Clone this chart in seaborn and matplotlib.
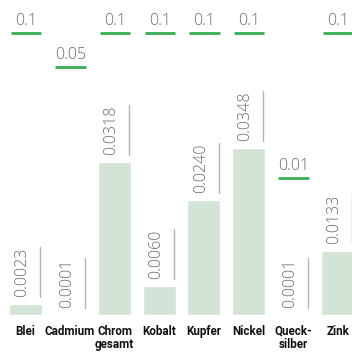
import matplotlib
matplotlib.use('Agg')
import matplotlib.pyplot as plt
import seaborn as sns
import pandas as pd

# measured values (mg/l) and limit values per metal
metals = ['Blei', 'Cadmium', 'Chrom\ngesamt', 'Kobalt', 'Kupfer', 'Nickel', 'Queck-\nsilber', 'Zink']
values = [0.0023, 0.0001, 0.0318, 0.0060, 0.0240, 0.0348, 0.0001, 0.0133]
value_labels = ['0.0023', '0.0001', '0.0318', '0.0060', '0.0240', '0.0348', '0.0001', '0.0133']
limits = [0.1, 0.05, 0.1, 0.1, 0.1, 0.1, 0.01, 0.1]
limit_labels = ['0.1', '0.05', '0.1', '0.1', '0.1', '0.1', '0.01', '0.1']

# limit markers are not drawn to scale: vertical slot (axes fraction) per limit value
limit_slot = {0.1: 0.895, 0.05: 0.787, 0.01: 0.435}

BAR = '#d3e3d5'
GREEN = '#3aae55'
TEXT = '#6b6b6b'
RULE = '#b5b5b5'

sns.set_style('white')
df = pd.DataFrame({'metal': metals, 'value': values})

W, H = 352, 354
fig = plt.figure(figsize=(W / 100, H / 100), dpi=100)
step = 44.6
left = 25.5 - 0.5 * step
ax = fig.add_axes([left / W, 39 / H, 8 * step / W, 315 / H])

sns.barplot(data=df, x='metal', y='value', color=BAR, width=0.74,
            saturation=1, ax=ax)
ax.set_xlim(-0.5, 7.5)
ax.set_ylim(0, 315 / 4800)
sns.despine(ax=ax, left=True, bottom=True)
ax.set_yticks([])
ax.set_xlabel('')
ax.set_ylabel('')
ax.tick_params(axis='x', length=0, pad=7)
for lbl in ax.get_xticklabels():
    lbl.set_fontfamily(['Roboto', 'DejaVu Sans'])
    lbl.set_fontweight('bold')
    lbl.set_fontsize(8.4)
    lbl.set_color('#111111')
    lbl.set_linespacing(1.0)

vfont = dict(family=['Open Sans', 'DejaVu Sans'], weight='light', color=TEXT)

# value labels with thin rule next to them
for i, (v, lab) in enumerate(zip(values, value_labels)):
    ax.annotate(lab, xy=(i - 0.07, v), xytext=(0, 5), textcoords='offset points',
                rotation=90, ha='center', va='bottom', fontsize=11.5, **vfont)
    ax.plot([i + 0.33, i + 0.33], [v + 7 / 4800, v + 57 / 4800], color=RULE, lw=1)

# limit values, placed in fixed slots above the bars
tr = ax.get_xaxis_transform()
for i, (lim, lab) in enumerate(zip(limits, limit_labels)):
    y = limit_slot[lim]
    ax.plot([i - 0.33, i + 0.35], [y, y], color=GREEN, lw=2, transform=tr,
            solid_capstyle='butt')
    ax.annotate(lab, xy=(i + 0.01, y), xycoords=tr, xytext=(0, 3),
                textcoords='offset points', ha='center', va='bottom',
                fontsize=11.5, **vfont)

fig.savefig('out.png', dpi=100)
